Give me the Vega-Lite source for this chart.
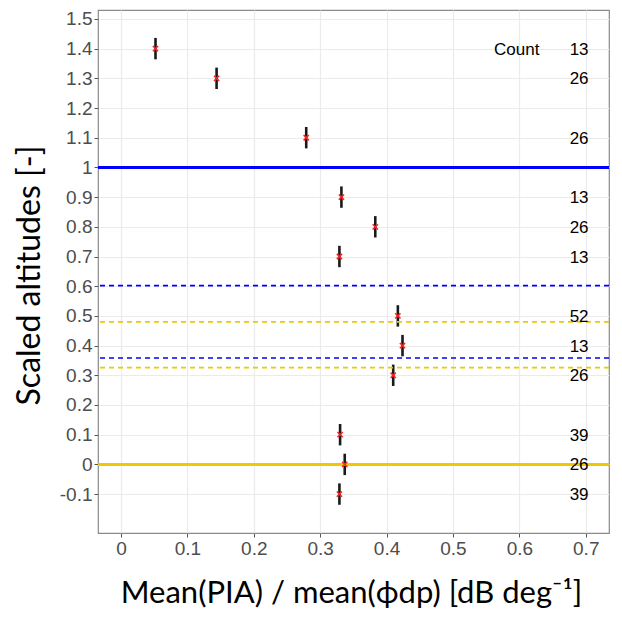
{
  "$schema": "https://vega.github.io/schema/vega-lite/v6.json",
  "description": "Scaled altitudes against mean(PIA)/mean(phi_dp), with counts per altitude bin.",
  "width": 511,
  "height": 523,
  "autosize": {"type": "none"},
  "padding": {"left": 98, "top": 10, "right": 13, "bottom": 84},
  "background": "white",
  "config": {
    "view": {"stroke": "#8a8a8a", "strokeWidth": 1.2},
    "axis": {
      "grid": true,
      "gridColor": "#ebebeb",
      "gridWidth": 1.2,
      "domain": false,
      "tickColor": "#555555",
      "tickSize": 4,
      "labelFont": "Liberation Sans",
      "labelFontSize": 19,
      "labelColor": "#4d4d4d",
      "labelPadding": 2,
      "titleFont": "Lato",
      "titleFontSize": 32,
      "titleFontWeight": "normal",
      "titleColor": "black"
    }
  },
  "datasets": {
    "bins": [
      {"ratio": 0.052, "alt": 1.4, "lo": 1.364, "hi": 1.436, "count": 13},
      {"ratio": 0.144, "alt": 1.3, "lo": 1.264, "hi": 1.336, "count": 26},
      {"ratio": 0.279, "alt": 1.1, "lo": 1.064, "hi": 1.136, "count": 26},
      {"ratio": 0.332, "alt": 0.9, "lo": 0.864, "hi": 0.936, "count": 13},
      {"ratio": 0.383, "alt": 0.8, "lo": 0.764, "hi": 0.836, "count": 26},
      {"ratio": 0.329, "alt": 0.7, "lo": 0.664, "hi": 0.736, "count": 13},
      {"ratio": 0.417, "alt": 0.5, "lo": 0.464, "hi": 0.536, "count": 52},
      {"ratio": 0.424, "alt": 0.4, "lo": 0.364, "hi": 0.436, "count": 13},
      {"ratio": 0.41, "alt": 0.3, "lo": 0.264, "hi": 0.336, "count": 26},
      {"ratio": 0.33, "alt": 0.1, "lo": 0.064, "hi": 0.136, "count": 39},
      {"ratio": 0.337, "alt": 0.0, "lo": -0.036, "hi": 0.036, "count": 26},
      {"ratio": 0.329, "alt": -0.1, "lo": -0.136, "hi": -0.064, "count": 39}
    ],
    "levels": [
      {"alt": 1.0, "level": "top", "kind": "solid"},
      {"alt": 0.602, "level": "top", "kind": "dashed"},
      {"alt": 0.358, "level": "top", "kind": "dashed"},
      {"alt": 0.48, "level": "base", "kind": "dashed"},
      {"alt": 0.326, "level": "base", "kind": "dashed"},
      {"alt": 0.0, "level": "base", "kind": "solid"}
    ]
  },
  "encoding": {
    "x": {
      "type": "quantitative",
      "scale": {"domain": [-0.0346, 0.735], "nice": false, "zero": false},
      "axis": {
        "title": "Mean(PIA) / mean(ϕdp) [dB deg⁻¹]",
        "values": [0, 0.1, 0.2, 0.3, 0.4, 0.5, 0.6, 0.7],
        "labelExpr": "format(datum.value, '~g')",
        "titleFontSize": 31,
        "titleX": 253,
        "titleY": 69,
        "titleBaseline": "alphabetic",
        "titleAlign": "center"
      }
    },
    "y": {
      "type": "quantitative",
      "scale": {"domain": [-0.231, 1.53], "nice": false, "zero": false},
      "axis": {
        "title": "Scaled altitudes [-]",
        "values": [-0.1, 0, 0.1, 0.2, 0.3, 0.4, 0.5, 0.6, 0.7, 0.8, 0.9, 1, 1.1, 1.2, 1.3, 1.4, 1.5],
        "labelExpr": "datum.value < 0 ? '-' + format(-datum.value, '~g') : format(datum.value, '~g')",
        "titleAngle": -90,
        "titleX": -59,
        "titleY": 265,
        "titleBaseline": "alphabetic",
        "titleAlign": "center"
      }
    }
  },
  "layer": [
    {
      "data": {"name": "bins"},
      "mark": {"type": "rule", "color": "#1a1a1a", "strokeWidth": 2.6},
      "encoding": {
        "x": {"field": "ratio"},
        "y": {"field": "lo"},
        "y2": {"field": "hi"}
      }
    },
    {
      "data": {"name": "levels"},
      "mark": {"type": "rule"},
      "encoding": {
        "y": {"field": "alt"},
        "color": {
          "field": "level",
          "type": "nominal",
          "scale": {"domain": ["top", "base"], "range": ["#0000ff", "#eec900"]},
          "legend": null
        },
        "strokeDash": {
          "field": "kind",
          "type": "nominal",
          "scale": {"domain": ["solid", "dashed"], "range": [[1, 0], [5, 4]]},
          "legend": null
        },
        "strokeWidth": {
          "field": "kind",
          "type": "nominal",
          "scale": {"domain": ["solid", "dashed"], "range": [3, 1.6]},
          "legend": null
        }
      }
    },
    {
      "data": {"name": "bins"},
      "mark": {
        "type": "point",
        "shape": "M-1,-1L1,1M1,-1L-1,1",
        "filled": false,
        "color": "#ff2020",
        "strokeWidth": 1.5,
        "size": 28,
        "opacity": 1
      },
      "encoding": {
        "x": {"field": "ratio"},
        "y": {"field": "alt"}
      }
    },
    {
      "data": {"name": "bins"},
      "mark": {"type": "text", "font": "Liberation Sans", "fontSize": 17, "color": "black", "align": "center", "baseline": "middle", "dy": 1},
      "encoding": {
        "x": {"datum": 0.69},
        "y": {"field": "alt"},
        "text": {"field": "count", "type": "quantitative"}
      }
    },
    {
      "data": {"values": [{"label": "Count", "alt": 1.4}]},
      "mark": {"type": "text", "font": "Liberation Sans", "fontSize": 17, "color": "black", "align": "center", "baseline": "middle", "dy": 1},
      "encoding": {
        "x": {"datum": 0.596},
        "y": {"field": "alt"},
        "text": {"field": "label"}
      }
    }
  ]
}
